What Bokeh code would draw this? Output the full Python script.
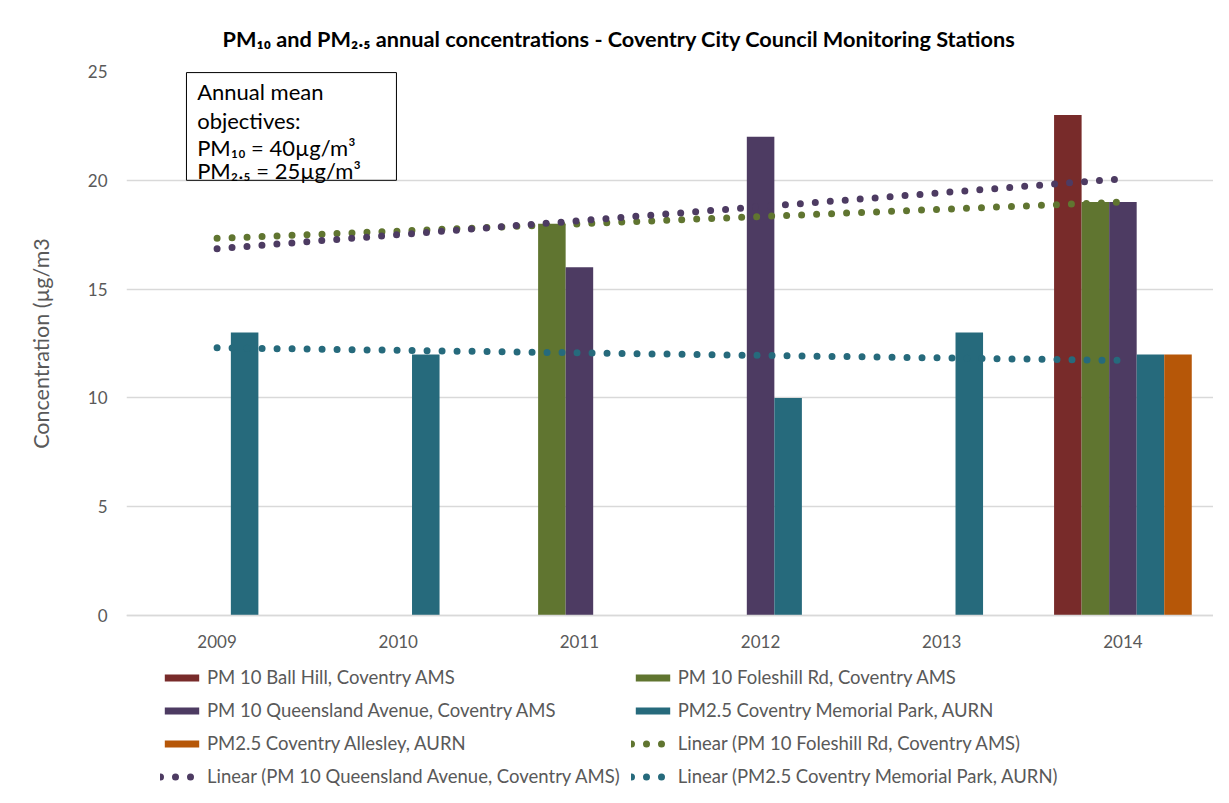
import numpy as np
from bokeh.plotting import figure
from bokeh.models import (ColumnDataSource, Legend, LegendItem, Label,
                          BoxAnnotation, FixedTicker, Title)
from bokeh.embed import file_html
from bokeh.resources import INLINE

# ---------------- data ----------------
years = ["2009", "2010", "2011", "2012", "2013", "2014"]
ball_hill = [None, None, None, None, None, 23]
foleshill = [None, None, 18, None, None, 19]
queensland = [None, None, 16, 22, None, 19]
memorial = [13, 12, None, 10, 13, 12]
allesley = [None, None, None, None, None, 12]

series_names = [
    "PM 10 Ball Hill, Coventry AMS",
    "PM 10 Foleshill Rd, Coventry AMS",
    "PM 10 Queensland Avenue, Coventry AMS",
    "PM2.5 Coventry Memorial Park, AURN",
    "PM2.5 Coventry Allesley, AURN",
]
series_values = [ball_hill, foleshill, queensland, memorial, allesley]
series_colors = ["#782B2A", "#607530", "#4D3B62", "#266A7C", "#B65708"]

trend_names = [
    "Linear (PM 10 Foleshill Rd, Coventry AMS)",
    "Linear (PM 10 Queensland Avenue, Coventry AMS)",
    "Linear (PM2.5 Coventry Memorial Park, AURN)",
]
trend_series = [1, 2, 3]

y_ticks = [0, 5, 10, 15, 20, 25]

FONT = "Lato"
GREY = "#595959"

# ---------------- figure ----------------
W, H = 1213, 787
TOP, LEFT, ZERO_PX = 71, 126, 615          # frame top, frame left, pixel row of y=0
px_per_unit = (ZERO_PX - TOP) / 25.0
y_bottom = -(H - ZERO_PX) / px_per_unit    # frame reaches down to hold the legend

pos = np.arange(1, len(years) + 1)
p = figure(width=W, height=H, x_range=(0.5, len(years) + 0.5),
           y_range=(y_bottom, 25), output_backend="svg", toolbar_location=None,
           min_border_left=LEFT, min_border_right=0, min_border_top=TOP,
           min_border_bottom=0, title=None)
p.outline_line_color = None
p.background_fill_color = "white"
p.border_fill_color = "white"

bar_w = 0.152
offsets = [(i - 2) * bar_w for i in range(5)]

bar_renderers = []
for vals, off, col in zip(series_values, offsets, series_colors):
    xs = [float(x + off) for x, v in zip(pos, vals) if v is not None]
    ys = [v for v in vals if v is not None]
    src = ColumnDataSource(dict(x=xs, top=ys))
    r = p.vbar(x="x", top="top", bottom=0, width=bar_w, source=src,
               fill_color=col, line_color=None)
    bar_renderers.append(r)

trend_renderers = []
for si in trend_series:
    vals = series_values[si]
    xs = np.array([x for x, v in zip(pos, vals) if v is not None], float)
    ys = np.array([v for v in vals if v is not None], float)
    k, b = np.polyfit(xs, ys, 1)
    tx = [float(pos[0]), float(pos[-1])]
    ty = [float(k * t + b) for t in tx]
    r = p.line(tx, ty, line_color=series_colors[si], line_width=7,
               line_dash="0 15", line_cap="round")
    trend_renderers.append(r)

# ---------------- axes ----------------
p.xaxis.fixed_location = 0
p.xaxis.ticker = FixedTicker(ticks=[float(x) for x in pos])
p.xaxis.major_label_overrides = {int(x): y for x, y in zip(pos, years)}
p.xaxis.axis_line_color = "#D9D9D9"
p.xaxis.axis_line_width = 1.5
p.xaxis.major_tick_line_color = None
p.xaxis.minor_tick_line_color = None
p.xaxis.major_label_standoff = 13
p.xaxis.major_label_text_font = FONT
p.xaxis.major_label_text_font_size = "17px"
p.xaxis.major_label_text_color = GREY

p.yaxis.ticker = FixedTicker(ticks=y_ticks)
p.yaxis.axis_line_color = None
p.yaxis.major_tick_line_color = None
p.yaxis.minor_tick_line_color = None
p.yaxis.major_label_standoff = 13
p.yaxis.major_label_text_font = FONT
p.yaxis.major_label_text_font_size = "17px"
p.yaxis.major_label_text_color = GREY
# leading en-spaces lift the visible label to the centre of the 0-25 part of the axis
p.yaxis.axis_label = "\u2002" * 16 + "Concentration (µg/m3"
p.yaxis.axis_label_text_font = FONT
p.yaxis.axis_label_text_font_size = "21.5px"
p.yaxis.axis_label_text_font_style = "normal"
p.yaxis.axis_label_text_color = GREY
p.yaxis.axis_label_standoff = 31

p.xgrid.grid_line_color = None
p.ygrid.grid_line_color = "#D9D9D9"
p.ygrid.grid_line_width = 1.5

# ---------------- title ----------------
p.add_layout(Title(text="PM₁₀ and PM₂.₅ annual concentrations - Coventry City Council Monitoring Stations",
                   align="left", offset=96, standoff=40,
                   text_font=FONT, text_font_size="21.7px",
                   text_font_style="bold", text_color="black"), "above")

# ---------------- annotation box ----------------
p.add_layout(BoxAnnotation(left=0.831, right=1.99, bottom=20, top=24.95,
                           fill_color="white", fill_alpha=1,
                           line_color="black", line_width=1, line_alpha=1))
box_lines = ["Annual mean", "objectives:", "PM₁₀ = 40µg/m³", "PM₂.₅ = 25µg/m³"]
box_y = [24.06, 22.77, 21.53, 20.47]
for t, yy in zip(box_lines, box_y):
    p.add_layout(Label(x=0.89, y=yy, text=t, text_align="left",
                       text_baseline="middle", text_font=FONT,
                       text_font_size="22px", text_color="black"))

# ---------------- legend ----------------
bar_items = [LegendItem(label=n, renderers=[r]) for n, r in zip(series_names, bar_renderers)]
trend_items = [LegendItem(label=n, renderers=[r]) for n, r in zip(trend_names, trend_renderers)]
row_major = bar_items + trend_items
# legend fills column by column: reorder so it reads row by row like the original
items = row_major[0::2] + row_major[1::2]
legend = Legend(items=items, ncols=2,
                location=(34, 0), glyph_width=43, glyph_height=9,
                label_standoff=4, spacing=11, padding=0, margin=0,
                label_text_font=FONT, label_text_font_size="18.5px",
                label_text_color=GREY, label_height=18,
                background_fill_alpha=0, border_line_color=None)
p.add_layout(legend, "center")

open("out.html", "w").write(file_html(p, INLINE))
